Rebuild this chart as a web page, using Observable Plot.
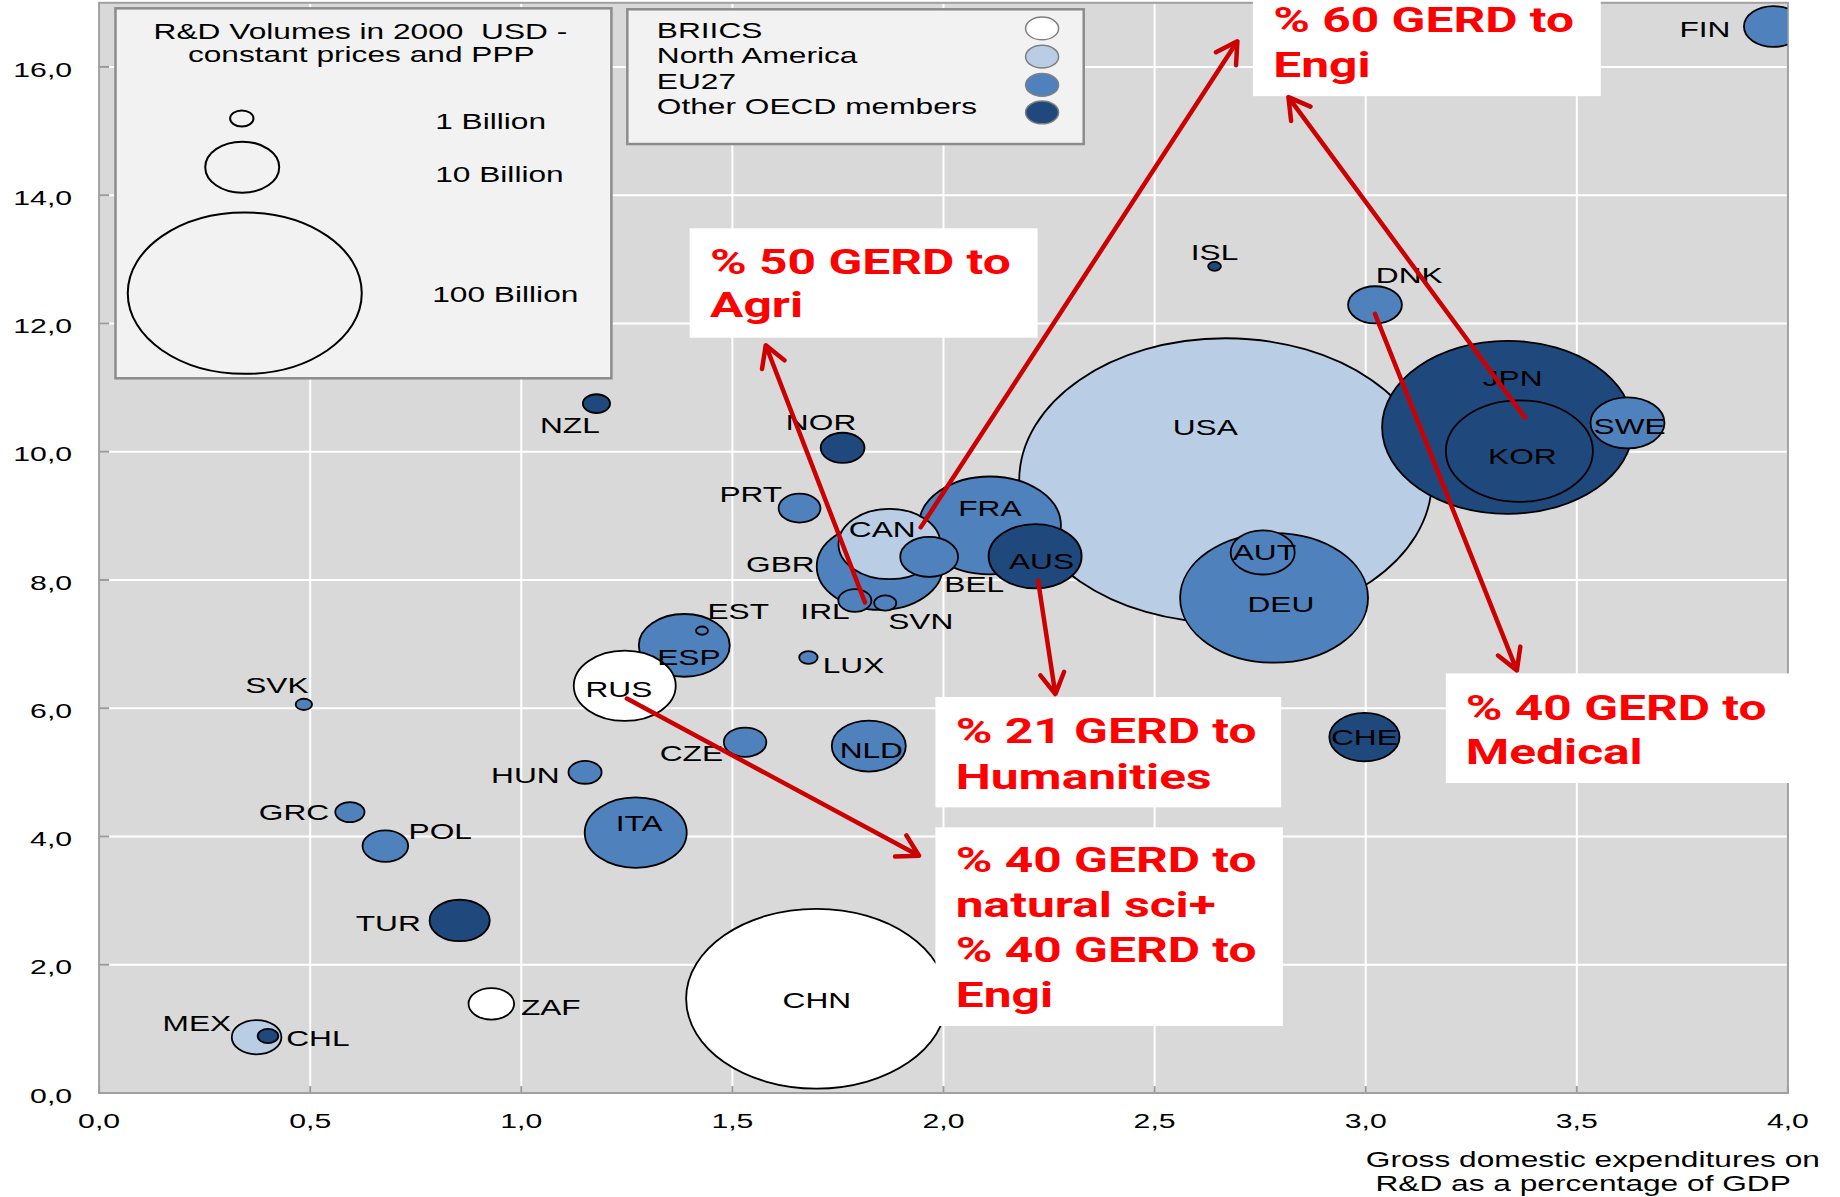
<!DOCTYPE html>
<html>
<head>
<meta charset="utf-8">
<script src="https://cdn.jsdelivr.net/npm/d3@7"></script>
<script src="https://cdn.jsdelivr.net/npm/@observablehq/plot@0.6"></script>
<style>
  html, body { margin: 0; padding: 0; background: #ffffff; }
  #chart { width: 1840px; height: 1197px; }
</style>
</head>
<body>
<div id="chart"></div>
<script>
// ---------------- DATA ----------------
// Country bubbles (draw order: large first)
const countries = ["USA","CHN","JPN","DEU","KOR","FRA","GBR","CAN","ITA","AUS","ESP","RUS","NLD","SWE","CHE","AUT","TUR","FIN","BEL","DNK","MEX","POL","ZAF","NOR","CZE","PRT","HUN","IRL","GRC","NZL","SVN","CHL","LUX","SVK","ISL","EST"];
const regions = ["North America","BRIICS","Other OECD members","EU27","Other OECD members","EU27","EU27","North America","EU27","Other OECD members","EU27","BRIICS","EU27","EU27","Other OECD members","EU27","Other OECD members","EU27","EU27","EU27","North America","EU27","BRIICS","Other OECD members","EU27","EU27","EU27","EU27","EU27","Other OECD members","EU27","Other OECD members","EU27","EU27","Other OECD members","EU27"];
// GERD as % of GDP (x)
const gerdPct = [2.668,1.699,3.336,2.783,3.364,2.110,1.849,1.872,1.271,2.217,1.386,1.245,1.823,3.620,2.997,2.756,0.854,3.966,1.966,3.022,0.373,0.678,0.929,1.761,1.530,1.659,1.151,1.790,0.594,1.178,1.862,0.400,1.680,0.485,2.642,1.428];
// y value
const researchers = [9.55,1.47,10.38,7.72,10.01,8.85,8.21,8.56,4.06,8.37,6.98,6.35,5.41,10.45,5.55,8.43,2.69,16.63,8.36,12.29,0.87,3.85,1.39,10.06,5.47,9.12,5.00,7.68,4.38,10.75,7.64,0.89,6.79,6.06,12.89,7.21];
// R&D volume, billion USD (bubble size)
const rdVolume = [311,124,115,64.5,39.5,36.8,29,19,19,15.8,15.1,19,10,10,9,7.5,6.6,6.4,6.1,5.3,4.5,3.8,3.8,3.5,3.3,3.2,2.0,2.0,1.56,1.35,0.9,0.78,0.62,0.49,0.3,0.26];
// country label placement
const labelX = [2.620,1.700,3.348,2.799,3.371,2.110,1.695,1.855,1.279,2.232,1.397,1.231,1.829,3.625,2.997,2.760,0.762,3.864,2.002,3.024,0.313,0.733,0.999,1.710,1.478,1.618,1.091,1.661,0.545,1.115,1.869,0.443,1.714,0.421,2.642,1.441];
const labelY = [10.26,1.33,11.02,7.50,9.81,9.00,8.12,8.67,4.09,8.17,6.68,6.17,5.23,10.28,5.43,8.31,2.53,16.47,7.82,12.63,0.96,3.96,1.21,10.34,5.18,9.21,4.83,7.39,4.26,10.29,7.24,0.73,6.55,6.24,12.99,7.39];
const labelAnchor = ["middle","middle","middle","middle","middle","middle","end","middle","middle","middle","middle","middle","middle","middle","middle","middle","end","end","start","start","end","start","start","middle","end","end","end","start","end","middle","start","start","start","middle","middle","start"];

// Colour groups
const groupNames = ["BRIICS","North America","EU27","Other OECD members"];
const groupColors = ["#ffffff","#b9cde5","#4f81bd","#1f497d"];
const groupLegendY = [16.60,16.16,15.72,15.29];
const groupLabelY = [16.45,16.06,15.66,15.27];

// Size legend
const sizeLegendVol = [1, 10, 100];
const sizeLegendX = [0.338, 0.339, 0.345];
const sizeLegendY = [15.196, 14.437, 12.472];
const sizeLegendText = ["1 Billion", "10 Billion", "100 Billion"];
const sizeLegendTextX = [0.796, 0.796, 0.789];
const sizeLegendTextY = [15.035, 14.203, 12.331];
const sizeTitleText = ["R&D Volumes in 2000  USD -", "constant prices and PPP"];
const sizeTitleX = [0.619, 0.621];
const sizeTitleY = [16.43, 16.07];

// Axes
const xTicks = [0,0.5,1,1.5,2,2.5,3,3.5,4];
const yTicks = [0,2,4,6,8,10,12,14,16];
const xTitleLines = ["Gross domestic expenditures on", "R&D as a percentage of GDP"];
const xTitleX = [3.538, 3.515];
const xTitleY = [-1.157, -1.531];

// Annotation boxes
const boxX1 = [1.400, 2.734, 1.982, 1.982, 3.191];
const boxX2 = [2.224, 3.558, 2.801, 2.805, 4.006];
const boxY1 = [13.476, 17.04, 6.167, 4.135, 6.535];
const boxY2 = [11.770, 15.536, 4.446, 1.037, 4.826];
const annotText = ["% 50 GERD to","Agri","% 60 GERD to","Engi","% 21 GERD to","Humanities","% 40 GERD to","natural sci+","% 40 GERD to","Engi","% 40 GERD to","Medical"];
const annotX = [1.447,1.447,2.781,2.781,2.029,2.029,2.029,2.029,2.029,2.029,3.237,3.237];
const annotY = [12.77,12.10,16.54,15.85,5.455,4.74,3.443,2.742,2.040,1.338,5.82,5.13];
// Arrows
const arrowX1 = [1.814, 1.946, 3.377, 3.022, 2.224, 1.250];
const arrowY1 = [7.65, 8.82, 10.53, 12.15, 7.99, 6.15];
const arrowX2 = [1.579, 2.696, 2.817, 3.358, 2.265, 1.942];
const arrowY2 = [11.66, 16.40, 15.53, 6.59, 6.22, 3.70];

// ---------------- BUILD ----------------
const table = countries.map((c, i) => ({
  code: c, region: regions[i], x: gerdPct[i], y: researchers[i], vol: rdVolume[i],
  lx: labelX[i], ly: labelY[i], anchor: labelAnchor[i]
}));
const groupTable = groupNames.map((g, i) => ({g, y: groupLegendY[i], ly: groupLabelY[i]}));
const sizeTable = sizeLegendVol.map((v, i) => ({v, x: sizeLegendX[i], y: sizeLegendY[i], t: sizeLegendText[i], tx: sizeLegendTextX[i], ty: sizeLegendTextY[i]}));
const sizeTitle = sizeTitleText.map((t, i) => ({t, x: sizeTitleX[i], y: sizeTitleY[i]}));
const xTitle = xTitleLines.map((t, i) => ({t, x: xTitleX[i], y: xTitleY[i]}));
const boxes = boxX1.map((d, i) => ({x1: boxX1[i], x2: boxX2[i], y1: boxY1[i], y2: boxY2[i]}));
const annots = annotText.map((t, i) => ({t, x: annotX[i], y: annotY[i]}));
const arrows = arrowX1.map((d, i) => ({x1: arrowX1[i], y1: arrowY1[i], x2: arrowX2[i], y2: arrowY2[i]}));

const ASPECT = 1.45;
const ellipse = {
  draw(context, size) {
    const rx = Math.sqrt(size / Math.PI), ry = rx / ASPECT, k = 0.5522847498;
    context.moveTo(rx, 0);
    context.bezierCurveTo(rx, k * ry, k * rx, ry, 0, ry);
    context.bezierCurveTo(-k * rx, ry, -rx, k * ry, -rx, 0);
    context.bezierCurveTo(-rx, -k * ry, -k * rx, -ry, 0, -ry);
    context.bezierCurveTo(k * rx, -ry, rx, -k * ry, rx, 0);
    context.closePath();
  }
};

const fmt = d => d.toFixed(1).replace(".", ",");
const FONT = "'Liberation Sans', Arial, sans-serif";

const countryText = (anchor) => Plot.text(table, {
  filter: d => d.anchor === anchor, x: "lx", y: "ly", text: "code",
  textAnchor: anchor, lineAnchor: "bottom", fontSize: 22, fill: "#000"
});

const chart = Plot.plot({
  width: 1840, height: 1197,
  marginLeft: 98.6, marginRight: 52.6, marginTop: 2.3, marginBottom: 104.5,
  style: {fontFamily: FONT, fontSize: "22px", color: "#000", background: "#fff", overflow: "visible"},
  x: {domain: [0, 4]},
  y: {domain: [0, 17]},
  r: {type: "sqrt", domain: [0, 100], range: [0, 117]},
  color: {domain: groupNames, range: groupColors},
  marks: [
    Plot.frame({fill: "#d9d9d9", stroke: "none"}),
    Plot.gridX({ticks: xTicks, stroke: "#ffffff", strokeOpacity: 1, strokeWidth: 2}),
    Plot.gridY({ticks: yTicks, stroke: "#ffffff", strokeOpacity: 1, strokeWidth: 2}),
    Plot.ruleY(yTicks, {y: d => d, x1: 0, x2: 0.025, stroke: "#9a9a9a", strokeWidth: 2}),
    Plot.ruleX(xTicks, {x: d => d, y1: 0, y2: 0.1, stroke: "#9a9a9a", strokeWidth: 2}),
    Plot.frame({stroke: "#a0a0a0", strokeWidth: 2}),
    Plot.axisX({ticks: xTicks, tickFormat: fmt, tickSize: 0, tickPadding: 20, fontSize: 21, label: null}),
    Plot.axisY({ticks: yTicks, tickFormat: fmt, tickSize: 0, tickPadding: 27, fontSize: 21, dy: 3, label: null}),
    // bubbles
    Plot.dot(table, {x: "x", y: "y", r: "vol", fill: "region", stroke: "#000", strokeWidth: 1.8,
      symbol: ellipse, sort: null, clip: true}),
    countryText("start"), countryText("middle"), countryText("end"),
    // size legend
    Plot.rect([0], {x1: 0.040, x2: 1.2146, y1: 16.906, y2: 11.137, fill: "#f2f2f2", stroke: "#8c8c8c", strokeWidth: 2.5}),
    Plot.dot(sizeTable, {x: "x", y: "y", r: "v", fill: "none", stroke: "#000", strokeWidth: 2, symbol: ellipse, sort: null}),
    Plot.text(sizeTable, {x: "tx", y: "ty", text: "t", textAnchor: "start", lineAnchor: "bottom", fontSize: 22, fill: "#000"}),
    Plot.text(sizeTitle, {x: "x", y: "y", text: "t", textAnchor: "middle", lineAnchor: "bottom", fontSize: 22, fill: "#000"}),
    // colour legend
    Plot.rect([0], {x1: 1.2523, x2: 2.3333, y1: 16.891, y2: 14.790, fill: "#f2f2f2", stroke: "#8c8c8c", strokeWidth: 2.5}),
    Plot.dot(groupTable, {x: 2.2335, y: "y", r: 16.5, fill: "g", stroke: "#7f7f7f", strokeWidth: 1.5, symbol: ellipse, sort: null}),
    Plot.text(groupTable, {x: 1.321, y: "ly", text: "g", textAnchor: "start", lineAnchor: "bottom", fontSize: 22, fill: "#000"}),
    // x-axis title
    Plot.text(xTitle, {x: "x", y: "y", text: "t", textAnchor: "middle", lineAnchor: "bottom", fontSize: 22, fill: "#000"}),
    // annotations
    Plot.rect(boxes, {x1: "x1", x2: "x2", y1: "y1", y2: "y2", fill: "#ffffff"}),
    Plot.arrow(arrows, {x1: "x1", y1: "y1", x2: "x2", y2: "y2", stroke: "#cc0000", strokeWidth: 4.5, headLength: 8, headAngle: 60}),
    Plot.text(annots, {x: "x", y: "y", text: "t", textAnchor: "start", lineAnchor: "bottom", fontSize: 34.5,
      fontFamily: "Roboto, 'Noto Sans', sans-serif", fontWeight: "bold", fill: "#ff0000"})
  ]
});

document.getElementById("chart").appendChild(chart);

// horizontal stretch of the text, as in the (horizontally stretched) original
const SX = 1.44;
d3.select(chart).selectAll("text").each(function () {
  const t = this.getAttribute("transform");
  if (t) this.setAttribute("transform", t + ` scale(${SX},1)`);
});
</script>
</body>
</html>
